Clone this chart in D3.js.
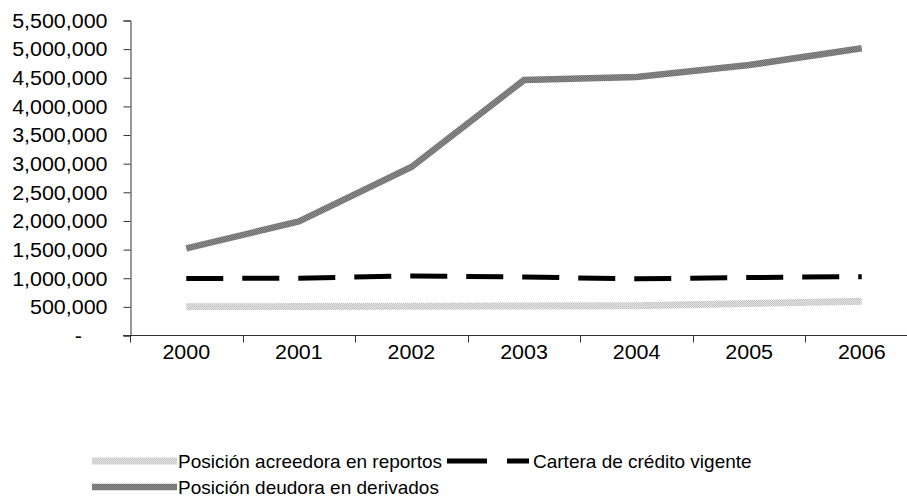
<!DOCTYPE html>
<html>
<head>
<meta charset="utf-8">
<script src="https://cdn.jsdelivr.net/npm/d3@7"></script>
<style>
  html, body { margin: 0; padding: 0; background: #fff; }
  svg { display: block; }
  text { font-family: "Liberation Sans", Arial, sans-serif; fill: #000; }
</style>
</head>
<body>
<svg id="chart" width="907" height="497"></svg>
<script>
// Years on the horizontal axis
const years = ["2000", "2001", "2002", "2003", "2004", "2005", "2006"];

// Series values
const acreedoraReportos = [500000, 505000, 510000, 515000, 520000, 560000, 600000];
const carteraCredito   = [995000, 1000000, 1040000, 1020000, 990000, 1013000, 1027000];
const deudoraDerivados = [1522000, 1990000, 2942000, 4460000, 4515000, 4722000, 5014000];

// Vertical axis tick values
const yTicks = [0, 500000, 1000000, 1500000, 2000000, 2500000, 3000000,
                3500000, 4000000, 4500000, 5000000, 5500000];

const seriesNames = ["Posición acreedora en reportos", "Cartera de crédito vigente",
                     "Posición deudora en derivados"];

const svg = d3.select("#chart");
const axisFont = 19.5;
const axisStretch = 1.1;
const legendFont = 19;

// Textured strokes
const defs = svg.append("defs");
function checker(id, a, b) {
  const p = defs.append("pattern").attr("id", id)
    .attr("patternUnits", "userSpaceOnUse").attr("width", 2).attr("height", 2);
  p.append("rect").attr("width", 2).attr("height", 2).attr("fill", b);
  p.append("rect").attr("width", 1).attr("height", 1).attr("fill", a);
  p.append("rect").attr("x", 1).attr("y", 1).attr("width", 1).attr("height", 1).attr("fill", a);
}
checker("texDark", "#6e6e6e", "#8c8c8c");
checker("texLight", "#c2c2c2", "#e6e6e6");

const styles = [
  { stroke: "url(#texLight)", width: 7, dash: null },
  { stroke: "#000", width: 5, dash: "37,19" },
  { stroke: "url(#texDark)", width: 6.5, dash: null }
];

const x = d3.scaleBand().domain(years).range([130, 918]).padding(0);
const y = d3.scaleLinear().domain([0, 5500000]).range([335.5, 20.5]);

// Y axis
const fmt = d3.format(",");
const yAxis = d3.axisLeft(y).tickValues(yTicks).tickSize(7).tickPadding(16)
  .tickFormat(d => d === 0 ? "-" : fmt(d));
const gy = svg.append("g").attr("transform", "translate(130.5,0)").call(yAxis);
gy.selectAll(".tick text")
  .attr("x", 0).attr("dy", "0.35em")
  .style("font-size", axisFont + "px")
  .attr("transform", d => `translate(${d === 0 ? -48.5 : -23},0) scale(${axisStretch},1)`);
gy.select(".domain").attr("stroke", "#333");
gy.selectAll(".tick line").attr("stroke", "#333");

// X axis: ticks at category boundaries
const bounds = years.map(v => x(v)).concat([x(years[years.length - 1]) + x.bandwidth()]);
const gx = svg.append("g").attr("transform", "translate(0,335.5)");
gx.append("line").attr("x1", 123).attr("x2", 918).attr("stroke", "#333");
gx.selectAll("line.tk").data(bounds).join("line").attr("class", "tk")
  .attr("x1", d => Math.round(d) + 0.5).attr("x2", d => Math.round(d) + 0.5)
  .attr("y1", 0).attr("y2", 7).attr("stroke", "#333");
gx.selectAll("text").data(years).join("text")
  .attr("text-anchor", "middle").style("font-size", axisFont + "px")
  .attr("transform", d => `translate(${x(d) + x.bandwidth() / 2},23.5) scale(${axisStretch},1)`)
  .text(d => d);

// Lines
const cx = d => x(d) + x.bandwidth() / 2;
const line = d3.line().x(d => cx(d.year)).y(d => y(d.value));
[acreedoraReportos, carteraCredito, deudoraDerivados].forEach((vals, i) => {
  const data = years.map((yr, j) => ({ year: yr, value: vals[j] }));
  svg.append("path").datum(data).attr("d", line)
    .attr("fill", "none").attr("stroke", styles[i].stroke)
    .attr("stroke-width", styles[i].width)
    .attr("stroke-dasharray", styles[i].dash)
    .attr("stroke-linejoin", "miter").attr("stroke-linecap", "butt");
});

// Legend
const legendItems = [
  { i: 0, x0: 92, x1: 177, tx: 178, cy: 461 },
  { i: 1, x0: 447, x1: 529, tx: 533, cy: 461 },
  { i: 2, x0: 92, x1: 177, tx: 178, cy: 487 }
];
legendItems.forEach(it => {
  const s = styles[it.i];
  svg.append("line").attr("x1", it.x0).attr("x2", it.x1)
    .attr("y1", it.cy).attr("y2", it.cy)
    .attr("stroke", s.stroke).attr("stroke-width", s.width)
    .attr("stroke-dasharray", it.i === 1 ? "40,20" : null);
  svg.append("text").attr("x", it.tx).attr("y", it.cy).attr("dy", "0.36em")
    .style("font-size", legendFont + "px").text(seriesNames[it.i]);
});
</script>
</body>
</html>
